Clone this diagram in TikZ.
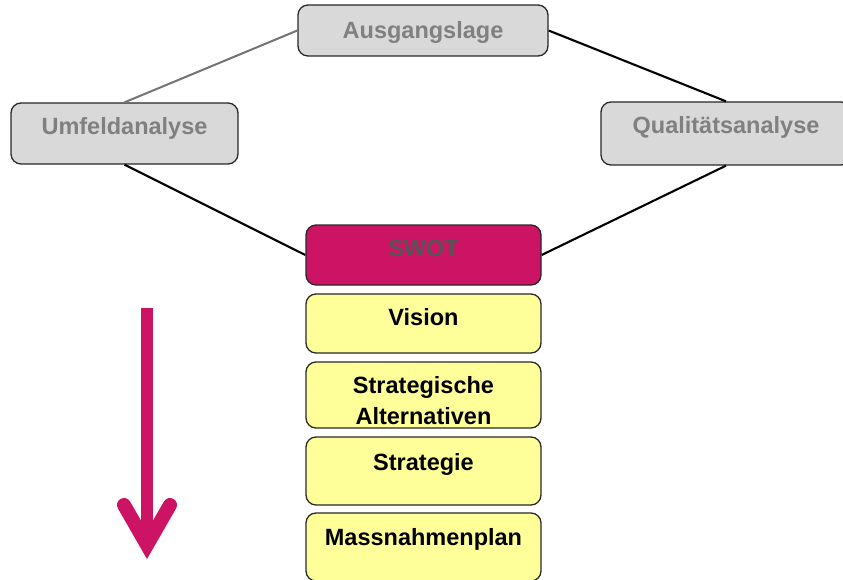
\documentclass[tikz,border=0pt]{standalone}
\usepackage{fontspec}
\setmainfont{Liberation Sans}
\usetikzlibrary{calc}
\definecolor{magentaX}{RGB}{205,20,100}
\definecolor{grayfill}{RGB}{217,217,217}
\definecolor{graytext}{RGB}{128,128,128}
\definecolor{swottext}{RGB}{85,85,85}
\definecolor{yellowfill}{RGB}{255,255,153}
\definecolor{borderc}{RGB}{40,40,40}
\tikzset{
  box/.style={draw=borderc, line width=1.3pt, rounded corners=10pt, inner sep=0pt},
  graybox/.style={box, fill=grayfill},
  yelbox/.style={box, fill=yellowfill},
  swotbox/.style={box, fill=magentaX},
  lbl/.style={font=\fontsize{23.5}{31}\selectfont\bfseries, inner sep=0pt, text height=0.716em, text depth=0pt, align=center},
  conn/.style={line width=2.1pt, black},
}
\begin{document}
\begin{tikzpicture}[x=1pt,y=-1pt]
\useasboundingbox (0,0) rectangle (843,580);
\clip (0,0) rectangle (843,580);
% boxes
\node[graybox, minimum width=250pt, minimum height=51pt] (aus) at (423,30.5) {};
\node[graybox, minimum width=227pt, minimum height=61pt] (umf) at (124.5,133.5) {};
\node[graybox, minimum width=250pt, minimum height=63pt] (qual) at (726,133.5) {};
\node[swotbox, minimum width=235pt, minimum height=60pt] (swot) at (423.5,255) {};
\node[yelbox, minimum width=235pt, minimum height=59pt] (vis) at (423.5,323.5) {};
\node[yelbox, minimum width=235pt, minimum height=66pt] (alt) at (423.5,395) {};
\node[yelbox, minimum width=235pt, minimum height=68pt] (strat) at (423.5,471) {};
\node[yelbox, minimum width=235pt, minimum height=68pt] (mass) at (423.5,547) {};
% texts
\node[lbl, text=graytext] (ausT) at (423,35) {Ausgangslage};
\node[lbl, text=graytext] (umfT) at (124.5,131) {Umfeldanalyse};
\node[lbl, text=graytext] (qualT) at (726,130) {Qualitätsanalyse};
\node[lbl, text=swottext] (swotT) at (423.5,253) {SWOT};
\node[lbl] (visT) at (423.5,322) {Vision};
\node[lbl] (altT) at (423.5,421) {Strategische\\Alternativen};
\node[lbl] (stratT) at (423.5,467) {Strategie};
\node[lbl] (massT) at (423.5,542) {Massnahmenplan};
% connectors
\draw[line width=2pt, color=black!55] (aus.west) -- (umf.north);
\draw[conn] (aus.east) -- (qual.north);
\draw[conn] (umf.south) -- (swot.west);
\draw[conn] (qual.south) -- (swot.east);
% big arrow
\coordinate (arrTop) at (147,308);
\coordinate (arrJoin) at (147,535);
\coordinate (headL) at (124,505);
\coordinate (headM) at (147,545);
\coordinate (headR) at (170,505);
\draw[magentaX, line width=12.5pt] (arrTop) -- (arrJoin);
\draw[magentaX, line width=14pt, line cap=round, line join=miter] (headL) -- (headM) -- (headR);
\end{tikzpicture}
\end{document}
